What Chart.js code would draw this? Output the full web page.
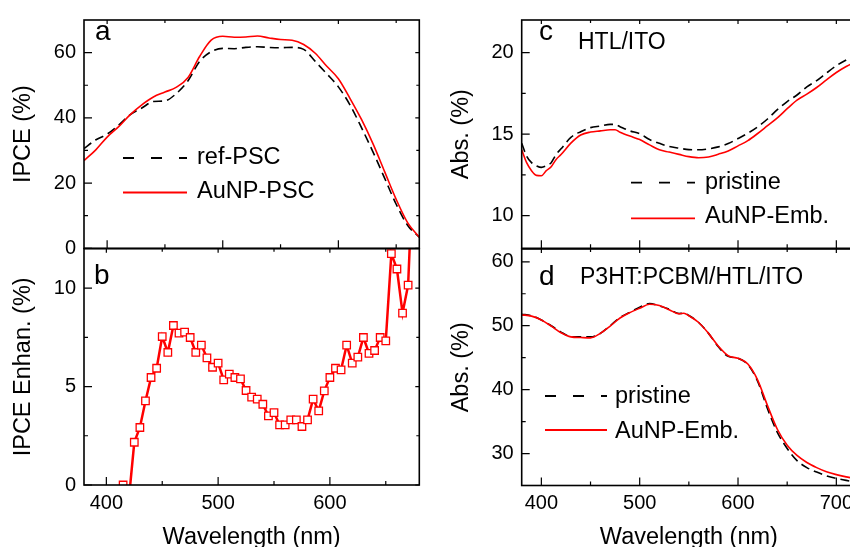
<!DOCTYPE html>
<html>
<head>
<meta charset="utf-8">
<script src="https://cdn.jsdelivr.net/npm/chart.js@4.4.0/dist/chart.umd.min.js"></script>
<style>
  html, body { margin: 0; padding: 0; background: #fff; width: 850px; height: 547px; overflow: hidden; position: relative; }
  canvas { position: absolute; left: 0; top: 0; }
</style>
</head>
<body>
<canvas id="pa" width="880" height="570"></canvas>
<canvas id="pb" width="880" height="570"></canvas>
<canvas id="pc" width="880" height="570"></canvas>
<canvas id="pd" width="880" height="570"></canvas>
<script>
// ---- panel a: IPCE spectra ----
var wlA = [380, 390, 400, 410, 420, 430, 440, 450, 460, 470, 480, 490, 500, 510, 520, 530, 540, 550, 560, 570, 580, 590, 600, 610, 620, 630, 640, 650, 660, 670];
var ipceRef = [30.6, 33.2, 35.0, 37.8, 41.0, 43.0, 45.0, 45.2, 47.5, 51.4, 57.3, 60.3, 61.3, 61.2, 61.6, 61.8, 61.6, 61.5, 61.6, 61.0, 57.3, 53.5, 49.5, 44.0, 37.0, 29.5, 21.5, 13.5, 7.0, 3.4];
var ipceAu  = [26.9, 30.1, 34.1, 37.3, 41.0, 44.0, 46.4, 47.9, 49.4, 52.4, 58.8, 63.8, 65.0, 64.7, 64.8, 65.1, 64.5, 64.0, 63.8, 62.5, 59.8, 55.8, 52.0, 46.0, 39.5, 32.0, 23.5, 15.0, 7.8, 3.4];

// ---- panel b: IPCE enhancement ----
var wlB = [415, 420, 425, 430, 435, 440, 445, 450, 455, 460, 465, 470, 475, 480, 485, 490, 495, 500, 505, 510, 515, 520, 525, 530, 535, 540, 545, 550, 555, 560, 565, 570, 575, 580, 585, 590, 595, 600, 605, 610, 615, 620, 625, 630, 635, 640, 645, 650, 655, 660, 665, 670, 675];
var enhB = [0, -0.8, 2.17, 2.92, 4.27, 5.46, 5.93, 7.54, 6.73, 8.1, 7.71, 7.76, 7.49, 6.73, 7.1, 6.46, 5.98, 6.19, 5.34, 5.63, 5.46, 5.39, 4.8, 4.46, 4.36, 4.1, 3.51, 3.68, 3.05, 3.05, 3.31, 3.31, 2.97, 3.31, 4.36, 3.76, 4.78, 5.46, 5.93, 5.85, 7.1, 6.19, 6.49, 7.49, 6.68, 6.83, 7.49, 7.32, 11.75, 10.97, 8.73, 10.15, 17];

// ---- panel c: HTL/ITO absorption ----
var wlC = [380, 385, 390, 395, 400, 405, 410, 415, 420, 430, 440, 450, 460, 470, 475, 480, 490, 500, 510, 520, 530, 540, 550, 560, 570, 580, 590, 600, 610, 620, 630, 640, 650, 660, 670, 680, 690, 700, 710, 720];
var absCPristine = [14.44, 13.65, 13.25, 13.06, 12.96, 13.06, 13.25, 13.75, 14.1, 14.8, 15.15, 15.4, 15.5, 15.6, 15.6, 15.46, 15.2, 15.03, 14.67, 14.44, 14.24, 14.14, 14.05, 14.04, 14.1, 14.22, 14.42, 14.73, 15.06, 15.45, 15.93, 16.5, 17.0, 17.4, 17.9, 18.28, 18.75, 19.2, 19.55, 19.85];
var absCAu = [14.04, 13.25, 12.76, 12.47, 12.45, 12.76, 13.0, 13.45, 13.75, 14.45, 14.95, 15.13, 15.2, 15.27, 15.27, 15.12, 14.88, 14.67, 14.34, 14.04, 13.9, 13.76, 13.62, 13.55, 13.6, 13.77, 13.97, 14.28, 14.6, 15.04, 15.52, 16.0, 16.56, 17.08, 17.45, 17.86, 18.33, 18.78, 19.15, 19.45];

// ---- panel d: P3HT:PCBM/HTL/ITO absorption ----
var wlD = [380, 390, 400, 410, 420, 430, 440, 450, 460, 470, 480, 490, 500, 510, 520, 530, 540, 545, 550, 560, 570, 580, 590, 600, 610, 620, 630, 640, 650, 660, 670, 680, 690, 700, 710, 720];
var absDPristine = [51.8, 51.55, 50.9, 50.0, 49.0, 48.3, 48.25, 48.25, 48.8, 50.0, 51.3, 52.1, 52.9, 53.45, 53.1, 52.6, 51.9, 51.95, 51.6, 50.5, 48.8, 46.7, 45.2, 44.9, 43.9, 41.3, 37.0, 33.3, 30.8, 28.9, 27.8, 27.1, 26.5, 26.1, 25.8, 25.5];
var absDAu = [51.7, 51.5, 50.9, 49.95, 48.9, 48.25, 48.15, 48.1, 48.8, 49.95, 51.2, 52.05, 52.73, 53.35, 53.15, 52.5, 51.85, 51.95, 51.55, 50.5, 48.8, 46.8, 45.3, 44.9, 44.0, 41.5, 37.5, 33.8, 31.3, 29.7, 28.6, 27.8, 27.15, 26.7, 26.35, 26.05];

// tick values
var xMajorLeft = [400, 500, 600];
var xMajorRight = [400, 500, 600, 700];
var xMinor = [450, 550, 650];
var yMajorA = [0, 20, 40, 60], yMinorA = [10, 30, 50];
var yMajorB = [0, 5, 10], yMinorB = [2.5, 7.5];
var yMajorC = [10, 15, 20], yMinorC = [12.5, 17.5];
var yMajorD = [30, 40, 50, 60], yMinorD = [35, 45, 55];

var W = 880, H = 570;
var FONT = "'Liberation Sans', Arial, Helvetica, sans-serif";
var RED = 'rgb(255,0,0)';

function pts(xs, ys) {
  return xs.map(function(x, i) { return {x: x, y: ys[i]}; });
}

// frame, inward ticks, panel texts and legend
function deco(p) {
  return {
    id: 'deco',
    afterDraw: function(chart) {
      var ctx = chart.ctx, a = chart.chartArea;
      var sx = chart.scales.x, sy = chart.scales.y;
      ctx.save();
      ctx.strokeStyle = '#000';
      ctx.lineWidth = 1.2;
      ctx.beginPath();
      function xt(vals, lb, lt) {
        vals.forEach(function(v) {
          var x = sx.getPixelForValue(v);
          ctx.moveTo(x, a.bottom); ctx.lineTo(x, a.bottom - lb);
          ctx.moveTo(x, a.top); ctx.lineTo(x, a.top + lt);
        });
      }
      function yt(vals, ll, lr) {
        vals.forEach(function(v) {
          var y = sy.getPixelForValue(v);
          ctx.moveTo(a.left, y); ctx.lineTo(a.left + ll, y);
          ctx.moveTo(a.right, y); ctx.lineTo(a.right - lr, y);
        });
      }
      xt(p.xMajor, 8, 4); xt(xMinor, 4, 3);
      yt(p.yMajor, 8, 4); yt(p.yMinor, 4, 3);
      ctx.stroke();
      ctx.lineWidth = 1.6;
      ctx.strokeRect(a.left, a.top, a.right - a.left, a.bottom - a.top);

      ctx.fillStyle = '#000';
      ctx.textBaseline = 'alphabetic';
      p.texts.forEach(function(t) {
        ctx.font = t.size + 'px ' + FONT;
        ctx.fillText(t.s, t.x, t.y);
      });

      ctx.textBaseline = 'middle';
      ctx.font = '23.5px ' + FONT;
      p.legend.forEach(function(L) {
        var ds = chart.data.datasets[L.i];
        ctx.strokeStyle = ds.borderColor;
        ctx.lineWidth = 1.8;
        ctx.setLineDash(ds.borderDash ? [11, 17] : []);
        ctx.beginPath(); ctx.moveTo(L.x1, L.y); ctx.lineTo(L.x2, L.y); ctx.stroke();
        ctx.setLineDash([]);
        ctx.fillText(ds.label, L.tx, L.ty);
      });
      ctx.restore();
    }
  };
}

function panel(id, p) {
  var xh = p.xLabels ? 85 : 0;
  return new Chart(document.getElementById(id), {
    type: 'line',
    data: { datasets: p.datasets },
    options: {
      responsive: false,
      animation: false,
      events: [],
      layout: { padding: { left: p.l - 84, top: p.t, right: W - p.r, bottom: H - p.b - xh } },
      plugins: { legend: { display: false }, tooltip: { enabled: false } },
      scales: {
        x: {
          type: 'linear', position: 'bottom', min: p.xMin, max: p.xMax,
          afterBuildTicks: function(s) { s.ticks = p.xMajor.map(function(v) { return {value: v}; }); },
          afterFit: function(s) { s.height = xh; },
          grid: { display: false, drawTicks: false },
          border: { display: false },
          ticks: { display: p.xLabels, color: '#000', font: { family: FONT, size: 20 }, padding: 6, maxRotation: 0, autoSkip: false },
          title: { display: p.xLabels, text: 'Wavelength (nm)', color: '#000', font: { family: FONT, size: 23.5 }, padding: { top: 0, bottom: 18.4 } }
        },
        y: {
          type: 'linear', position: 'left', min: p.yMin, max: p.yMax,
          afterBuildTicks: function(s) { s.ticks = p.yMajor.map(function(v) { return {value: v}; }); },
          afterFit: function(s) { s.width = 84; },
          grid: { display: false, drawTicks: false },
          border: { display: false },
          ticks: { color: '#000', font: { family: FONT, size: 20 }, padding: 8 },
          title: { display: true, text: p.yTitle, color: '#000', font: { family: FONT, size: 23.5 }, padding: { top: 9.9, bottom: 0 } }
        }
      }
    },
    plugins: [deco(p)]
  });
}

function curve(label, xs, ys, color, dashed, order) {
  return {
    label: label, data: pts(xs, ys), borderColor: color, borderWidth: 1.6,
    borderDash: dashed ? [9, 5] : undefined, pointRadius: 0,
    cubicInterpolationMode: 'monotone', clip: 0, order: order
  };
}

panel('pa', {
  l: 84, t: 12.5, r: 419.3, b: 248.3, xMin: 380, xMax: 670, yMin: 0, yMax: 70,
  xMajor: xMajorLeft, yMajor: yMajorA, yMinor: yMinorA, xLabels: false, yTitle: 'IPCE (%)',
  datasets: [
    curve('ref-PSC', wlA, ipceRef, '#000', true, 1),
    curve('AuNP-PSC', wlA, ipceAu, RED, false, 0)
  ],
  texts: [{ s: 'a', x: 95, y: 40, size: 28 }],
  legend: [
    { i: 0, x1: 123, x2: 187, y: 158, tx: 197, ty: 158 },
    { i: 1, x1: 123, x2: 187, y: 192.5, tx: 197, ty: 191.5 }
  ]
});

panel('pb', {
  l: 84, t: 248.7, r: 419.3, b: 485, xMin: 380, xMax: 680, yMin: 0, yMax: 12,
  xMajor: xMajorLeft, yMajor: yMajorB, yMinor: yMinorB, xLabels: true, yTitle: 'IPCE Enhan. (%)',
  datasets: [{
    label: 'IPCE Enhan.', data: pts(wlB, enhB), borderColor: RED, borderWidth: 2.5,
    pointStyle: 'rect', pointRadius: 5.3, pointBorderWidth: 1.3,
    pointBorderColor: RED, pointBackgroundColor: '#fff', tension: 0, clip: 0
  }],
  texts: [{ s: 'b', x: 94, y: 283.5, size: 28 }],
  legend: []
});

panel('pc', {
  l: 521.7, t: 12.5, r: 856, b: 248.3, xMin: 380, xMax: 720, yMin: 8, yMax: 22,
  xMajor: xMajorRight, yMajor: yMajorC, yMinor: yMinorC, xLabels: false, yTitle: 'Abs. (%)',
  datasets: [
    curve('pristine', wlC, absCPristine, '#000', true, 1),
    curve('AuNP-Emb.', wlC, absCAu, RED, false, 0)
  ],
  texts: [{ s: 'c', x: 539, y: 40, size: 28 }, { s: 'HTL/ITO', x: 578, y: 49.3, size: 23 }],
  legend: [
    { i: 0, x1: 631, x2: 695, y: 182.7, tx: 705, ty: 183 },
    { i: 1, x1: 631, x2: 695, y: 218.3, tx: 705, ty: 217 }
  ]
});

panel('pd', {
  l: 521.7, t: 249, r: 856, b: 485.5, xMin: 380, xMax: 720, yMin: 25, yMax: 62,
  xMajor: xMajorRight, yMajor: yMajorD, yMinor: yMinorD, xLabels: true, yTitle: 'Abs. (%)',
  datasets: [
    curve('pristine', wlD, absDPristine, '#000', true, 1),
    curve('AuNP-Emb.', wlD, absDAu, RED, false, 0)
  ],
  texts: [{ s: 'd', x: 539, y: 285, size: 28 }, { s: 'P3HT:PCBM/HTL/ITO', x: 580, y: 284.3, size: 23 }],
  legend: [
    { i: 0, x1: 545, x2: 607, y: 396, tx: 615, ty: 396.5 },
    { i: 1, x1: 545, x2: 607, y: 430, tx: 615, ty: 432 }
  ]
});
</script>
</body>
</html>
